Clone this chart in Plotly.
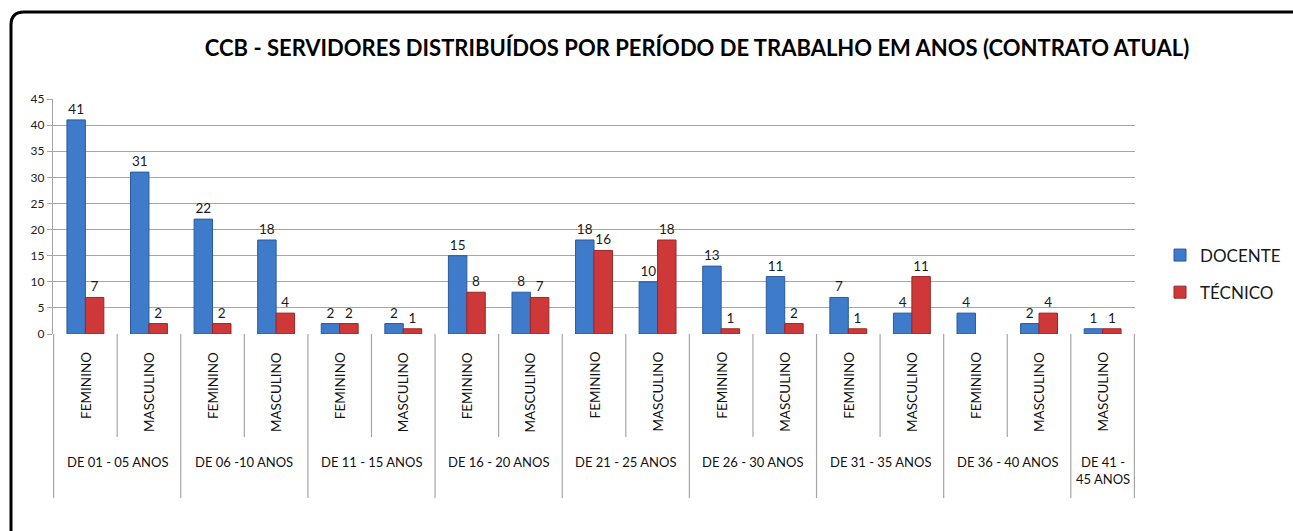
import plotly.graph_objects as go

groups = ["DE 01 - 05 ANOS", "DE 06 -10 ANOS", "DE 11 - 15 ANOS", "DE 16 - 20 ANOS",
          "DE 21 - 25 ANOS", "DE 26 - 30 ANOS", "DE 31 - 35 ANOS", "DE 36 - 40 ANOS",
          "DE 41 -<br>45 ANOS"]
subcats = [["FEMININO", "MASCULINO"]] * 8 + [["MASCULINO"]]
docente = [41, 31, 22, 18, 2, 2, 15, 8, 18, 10, 13, 11, 7, 4, 4, 2, 1]
tecnico = [7, 2, 2, 4, 2, 1, 8, 7, 16, 18, 1, 2, 1, 11, None, 4, 1]
y_ticks = [0, 5, 10, 15, 20, 25, 30, 35, 40, 45]
title = "CCB - SERVIDORES DISTRIBUÍDOS POR PERÍODO DE TRABALHO EM ANOS (CONTRATO ATUAL)"

W, H = 1293, 531
L, R, T, B = 53, 158, 99, 197
PW, PH = W - L - R, H - T - B


def fx(px):
    return (px - L) / PW


def fy(py):
    return (H - B - py) / PH


keys, inner = [], []
for g, subs in zip(groups, subcats):
    for s in subs:
        keys.append(g + "|" + s)
        inner.append(s)

FONT = "Lato, 'Open Sans', sans-serif"

fig = go.Figure()
fig.add_trace(go.Bar(
    x=keys, y=docente, name="DOCENTE",
    marker=dict(color="#3E7BCA", line=dict(color="#2A5A9A", width=1)),
    text=docente, textposition="outside", cliponaxis=False,
    textfont=dict(family=FONT, size=13.5, color="#1a1a1a"),
    legendgroup="a"))
fig.add_trace(go.Bar(
    x=keys, y=tecnico, name="TÉCNICO",
    marker=dict(color="#CF3838", line=dict(color="#9A2626", width=1)),
    text=[("" if v is None else v) for v in tecnico], textposition="outside", cliponaxis=False,
    textfont=dict(family=FONT, size=13.5, color="#1a1a1a"),
    legendgroup="b"))

shapes = []
annotations = []
for i, s in enumerate(inner):
    annotations.append(dict(x=keys[i], y=fy(350), xref="x", yref="paper", text=s,
                            textangle=-90, showarrow=False, xanchor="center", yanchor="top",
                            font=dict(family=FONT, size=13.5, color="#111111")))
idx = 0
bounds = [-0.5]
for g, subs in zip(groups, subcats):
    n = len(subs)
    for k in range(1, n):
        shapes.append(dict(type="line", xref="x", yref="paper", x0=idx + k - 0.5, x1=idx + k - 0.5,
                           y0=0, y1=fy(437), line=dict(color="#A6A6A6", width=1.2)))
    center = idx + (n - 1) / 2
    two = "<br>" in g
    annotations.append(dict(x=center, y=fy(452) if two else fy(462), xref="x", yref="paper", text=g,
                            showarrow=False, xanchor="center",
                            yanchor="top" if two else "middle",
                            font=dict(family=FONT, size=13, color="#111111")))
    idx += n
    bounds.append(idx - 0.5)
for b in bounds:
    shapes.append(dict(type="line", xref="x", yref="paper", x0=b, x1=b,
                       y0=0, y1=fy(498), line=dict(color="#A6A6A6", width=1.2)))

r = 13
path = (f"M {fx(11)} {fy(540)} L {fx(11)} {fy(12 + r)} "
        f"Q {fx(11)} {fy(12)} {fx(11 + r)} {fy(12)} L {fx(1300)} {fy(12)}")
shapes.append(dict(type="path", xref="paper", yref="paper", path=path,
                   line=dict(color="#000000", width=3)))

fig.update_layout(
    width=W, height=H,
    margin=dict(l=L, r=R, t=T, b=B, autoexpand=False),
    paper_bgcolor="white", plot_bgcolor="white",
    barmode="group", bargap=0.42, bargroupgap=0,
    title=dict(text="<b>" + title + "</b>", x=fx(697), xref="paper", xanchor="center",
               y=1 - 48 / H, yanchor="middle",
               font=dict(family=FONT, size=22, color="#000000")),
    xaxis=dict(showticklabels=False, ticks="", showgrid=False, zeroline=False,
               showline=False, fixedrange=True),
    yaxis=dict(range=[0, 45], tickvals=y_ticks, showgrid=True, gridcolor="#A6A6A6", gridwidth=1.2,
               showline=True, linecolor="#A6A6A6", linewidth=1.2, ticks="outside", ticklen=5,
               tickcolor="#A6A6A6", zeroline=False,
               tickfont=dict(family=FONT, size=12, color="#222222")),
    legend=dict(x=fx(1160), y=fy(274), xanchor="left", yanchor="middle",
                font=dict(family=FONT, size=17, color="#1a1a1a"), tracegroupgap=12,
                bgcolor="rgba(0,0,0,0)"),
    shapes=shapes, annotations=annotations,
    font=dict(family=FONT),
)

fig.write_html("out.html", config={"displayModeBar": False},
               post_script="document.body.style.margin='0px';")
